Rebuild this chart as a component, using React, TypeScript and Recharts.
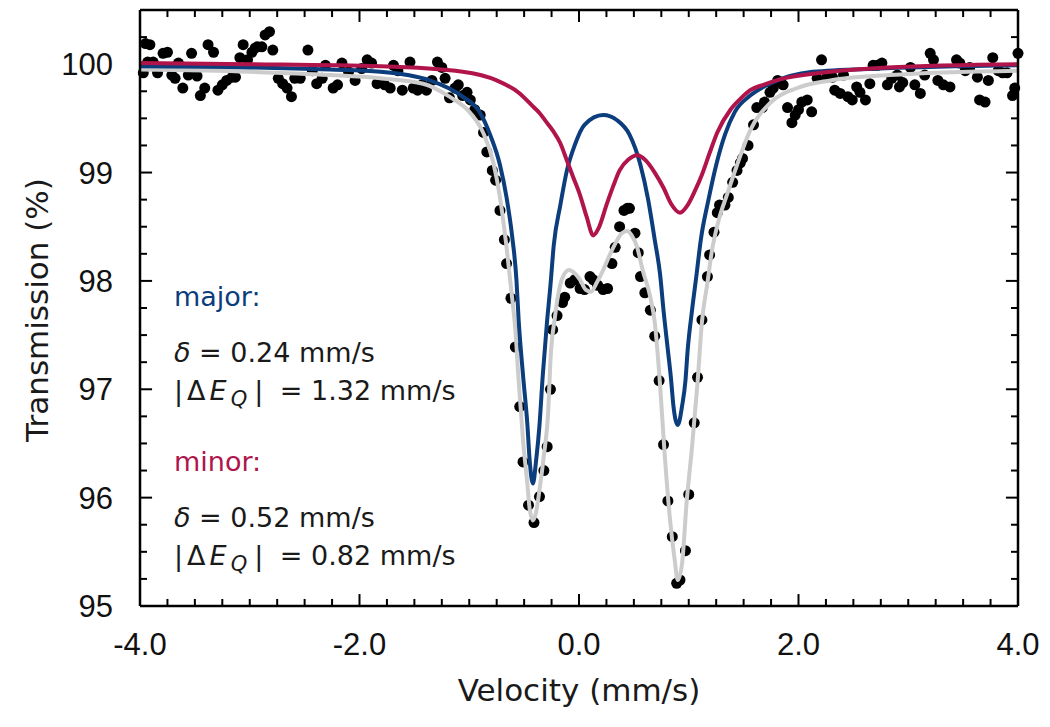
import React from "react";
import { ComposedChart, Scatter, Line, XAxis, YAxis, ReferenceLine } from "recharts";

// measured spectrum, [velocity mm/s, transmission %]
const measured: [number, number][] = [
  [-3.97, 99.92], [-3.95, 100.19], [-3.93, 100.02], [-3.91, 100.18], [-3.88, 100.02], [-3.84, 99.92],
  [-3.79, 100.1], [-3.75, 100.11], [-3.71, 99.9], [-3.68, 99.87], [-3.65, 100.01], [-3.61, 99.78],
  [-3.56, 99.9], [-3.53, 100.1], [-3.48, 99.89], [-3.45, 99.71], [-3.41, 99.78], [-3.38, 100.18],
  [-3.33, 100.11], [-3.29, 99.76], [-3.25, 99.81], [-3.21, 99.85], [-3.16, 99.88], [-3.13, 99.88],
  [-3.09, 100.06], [-3.06, 100.18], [-3.02, 100.04], [-2.98, 100.11], [-2.95, 100.15], [-2.93, 100.16],
  [-2.89, 100.16], [-2.86, 100.27], [-2.82, 100.3], [-2.79, 100.13], [-2.74, 99.87], [-2.7, 99.82],
  [-2.66, 99.78], [-2.62, 99.7], [-2.59, 99.87], [-2.54, 99.87], [-2.47, 100.13], [-2.43, 99.94],
  [-2.39, 99.82], [-2.34, 99.87], [-2.31, 99.99], [-2.24, 99.78], [-2.2, 99.81], [-2.16, 100.01],
  [-2.1, 99.93], [-2.04, 99.85], [-1.98, 99.96], [-1.93, 100.04], [-1.89, 100.01], [-1.84, 99.82],
  [-1.77, 99.81], [-1.72, 99.78], [-1.69, 99.99], [-1.65, 99.94], [-1.61, 99.76], [-1.54, 100.02],
  [-1.51, 99.78], [-1.47, 99.76], [-1.43, 99.81], [-1.39, 99.76], [-1.34, 99.85], [-1.29, 100.02],
  [-1.25, 99.97], [-1.22, 99.87], [-1.18, 99.69], [-1.13, 99.78], [-1.1, 99.81], [-1.06, 99.71],
  [-1.02, 99.74], [-0.99, 99.67], [-0.95, 99.58], [-0.9, 99.53], [-0.87, 99.37], [-0.84, 99.19],
  [-0.79, 99.02], [-0.76, 98.93], [-0.72, 98.65], [-0.68, 98.38], [-0.66, 98.16], [-0.62, 97.84],
  [-0.58, 97.39], [-0.54, 96.84], [-0.51, 96.33], [-0.46, 95.93], [-0.41, 95.77], [-0.36, 96.01],
  [-0.32, 96.25], [-0.29, 96.47], [-0.26, 97.0], [-0.24, 97.55], [-0.2, 97.68], [-0.15, 97.8],
  [-0.13, 97.85], [-0.08, 97.98], [-0.04, 98.01], [0.01, 97.93], [0.05, 97.92], [0.1, 98.04],
  [0.13, 98.01], [0.17, 97.96], [0.22, 97.92], [0.26, 97.93], [0.3, 98.16], [0.33, 98.31],
  [0.37, 98.5], [0.41, 98.65], [0.44, 98.67], [0.46, 98.67], [0.51, 98.44], [0.54, 98.26],
  [0.56, 98.04], [0.6, 97.89], [0.65, 97.73], [0.69, 97.49], [0.73, 97.08], [0.77, 96.49],
  [0.81, 95.97], [0.85, 95.64], [0.89, 95.21], [0.92, 95.24], [0.97, 95.51], [1.0, 96.03],
  [1.05, 96.69], [1.08, 97.11], [1.12, 97.64], [1.17, 98.04], [1.19, 98.24], [1.23, 98.45],
  [1.26, 98.63], [1.28, 98.7], [1.33, 98.7], [1.36, 98.77], [1.4, 98.91], [1.44, 99.02],
  [1.47, 99.09], [1.49, 99.13], [1.54, 99.25], [1.59, 99.44], [1.62, 99.6], [1.67, 99.6],
  [1.69, 99.65], [1.74, 99.74], [1.77, 99.78], [1.81, 99.85], [1.86, 99.81], [1.9, 99.6],
  [1.94, 99.46], [1.97, 99.53], [2.0, 99.58], [2.03, 99.65], [2.08, 99.67], [2.12, 99.56],
  [2.17, 99.87], [2.21, 100.04], [2.26, 99.88], [2.31, 99.88], [2.33, 99.76], [2.38, 99.73],
  [2.41, 99.9], [2.45, 99.7], [2.49, 99.67], [2.53, 99.79], [2.56, 99.74], [2.61, 99.67],
  [2.65, 99.82], [2.68, 99.99], [2.72, 99.99], [2.76, 100.01], [2.81, 99.81], [2.85, 99.87],
  [2.9, 99.9], [2.92, 99.79], [2.95, 99.83], [3.02, 99.97], [3.06, 99.81], [3.11, 99.73],
  [3.15, 99.9], [3.2, 100.1], [3.23, 100.04], [3.27, 99.85], [3.32, 99.81], [3.38, 99.79],
  [3.44, 100.04], [3.47, 100.01], [3.52, 99.94], [3.56, 99.97], [3.63, 99.88], [3.65, 99.67],
  [3.7, 99.65], [3.73, 99.85], [3.77, 100.06], [3.82, 99.94], [3.86, 99.92], [3.9, 99.92],
  [3.95, 99.71], [3.97, 99.78], [4.0, 100.1],
];

// fitted components
const majorFit: [number, number][] = [
  [-4.0, 99.98], [-3.0, 99.97], [-2.27, 99.95], [-1.81, 99.93], [-1.36, 99.85], [-1.06, 99.7],
  [-0.9, 99.55], [-0.81, 99.35], [-0.72, 99.07], [-0.66, 98.77], [-0.61, 98.42], [-0.57, 98.01],
  [-0.55, 97.64], [-0.51, 97.13], [-0.47, 96.67], [-0.45, 96.35], [-0.42, 96.13], [-0.39, 96.35],
  [-0.36, 96.67], [-0.33, 97.13], [-0.29, 97.64], [-0.26, 97.96], [-0.23, 98.33], [-0.17, 98.7],
  [-0.11, 99.02], [-0.04, 99.25], [0.05, 99.44], [0.22, 99.53], [0.35, 99.48], [0.46, 99.35],
  [0.56, 99.07], [0.63, 98.75], [0.69, 98.38], [0.74, 98.05], [0.77, 97.73], [0.81, 97.36],
  [0.84, 97.08], [0.86, 96.85], [0.9, 96.67], [0.94, 96.85], [0.97, 97.08], [0.99, 97.36],
  [1.03, 97.73], [1.07, 98.05], [1.11, 98.38], [1.18, 98.75], [1.25, 99.07], [1.33, 99.35],
  [1.42, 99.56], [1.56, 99.71], [1.74, 99.82], [2.13, 99.93], [2.74, 99.96], [4.0, 99.99],
];

const minorFit: [number, number][] = [
  [-4.0, 100.01], [-3.0, 100.0], [-1.81, 99.98], [-1.06, 99.93], [-0.75, 99.85], [-0.54, 99.73],
  [-0.42, 99.61], [-0.36, 99.55], [-0.3, 99.47], [-0.24, 99.39], [-0.17, 99.27], [-0.11, 99.11],
  [-0.05, 98.95], [0.01, 98.79], [0.07, 98.59], [0.13, 98.42], [0.18, 98.49], [0.25, 98.7],
  [0.31, 98.87], [0.37, 99.02], [0.45, 99.12], [0.53, 99.16], [0.61, 99.11], [0.69, 99.0],
  [0.77, 98.86], [0.84, 98.71], [0.92, 98.63], [0.99, 98.7], [1.06, 98.84], [1.12, 98.98],
  [1.19, 99.18], [1.26, 99.37], [1.38, 99.58], [1.47, 99.68], [1.56, 99.76], [1.68, 99.81],
  [1.83, 99.86], [2.29, 99.93], [2.81, 99.97], [4.0, 100.0],
];

const totalFit: [number, number][] = [
  [-4.0, 99.95], [-3.0, 99.93], [-2.27, 99.9], [-1.81, 99.87], [-1.42, 99.82], [-1.18, 99.7],
  [-0.99, 99.55], [-0.87, 99.36], [-0.78, 99.09], [-0.72, 98.77], [-0.66, 98.31], [-0.61, 97.85],
  [-0.58, 97.55], [-0.55, 97.08], [-0.51, 96.53], [-0.47, 96.12], [-0.45, 95.9], [-0.42, 95.79],
  [-0.39, 95.87], [-0.36, 96.07], [-0.32, 96.39], [-0.28, 96.81], [-0.26, 97.27], [-0.22, 97.66],
  [-0.19, 97.87], [-0.15, 98.03], [-0.09, 98.1], [-0.04, 98.07], [0.01, 98.01], [0.06, 97.92],
  [0.11, 97.9], [0.16, 97.98], [0.22, 98.1], [0.28, 98.24], [0.35, 98.38], [0.39, 98.44],
  [0.44, 98.46], [0.48, 98.42], [0.53, 98.31], [0.58, 98.1], [0.65, 97.85], [0.69, 97.62],
  [0.74, 97.02], [0.78, 96.41], [0.83, 95.79], [0.87, 95.44], [0.9, 95.24], [0.94, 95.4],
  [0.98, 95.95], [1.03, 96.47], [1.08, 97.06], [1.12, 97.62], [1.17, 97.98], [1.21, 98.27],
  [1.27, 98.55], [1.35, 98.8], [1.44, 99.07], [1.56, 99.39], [1.74, 99.64], [1.99, 99.78],
  [2.29, 99.85], [2.83, 99.9], [4.0, 99.94],
];

const xTicks = [
  -4, -3.75, -3.5, -3.25, -3, -2.75, -2.5, -2.25, -2, -1.75, -1.5, -1.25, -1, -0.75, -0.5, -0.25, 0,
  0.25, 0.5, 0.75, 1, 1.25, 1.5, 1.75, 2, 2.25, 2.5, 2.75, 3, 3.25, 3.5, 3.75, 4,
];
const xLabelled = [-4, -2, 0, 2, 4];
const yTicks = [
  95, 95.25, 95.5, 95.75, 96, 96.25, 96.5, 96.75, 97, 97.25, 97.5, 97.75, 98, 98.25, 98.5, 98.75,
  99, 99.25, 99.5, 99.75, 100, 100.25, 100.5,
];
const yLabelled = [95, 96, 97, 98, 99, 100];

const X_MIN = -4;
const X_MAX = 4;
const Y_MIN = 95;
const Y_MAX = 100.5;

const BLUE = "#0c3d7c";
const RED = "#b0144b";
const GREY = "#cccccc";
const TICK_FONT = "'Liberation Sans', Arial, sans-serif";
const TEXT_FONT = "'DejaVu Sans', sans-serif";

const toRows = (pts: [number, number][]) => pts.map(([v, t]) => ({ v, t }));

const isLabelled = (list: number[], v: number) => list.some((l) => Math.abs(l - v) < 1e-6);

// inward tick lengths in data units (about 7px minor, 12px major)
const xTickLen = (v: number) => (isLabelled(xLabelled, v) ? 0.11 : 0.065);
const yTickLen = (v: number) => (isLabelled(yLabelled, v) ? 0.11 : 0.064);

const BottomLabel = (props: any) => {
  const x = Number(props.x);
  const y = Number(props.y);
  if (!isLabelled(xLabelled, props.payload.value)) return <g />;
  return (
    <text x={x} y={y + 49} textAnchor="middle" fontFamily={TICK_FONT} fontSize={31} fill="#111">
      {props.payload.value.toFixed(1)}
    </text>
  );
};

const LeftLabel = (props: any) => {
  const x = Number(props.x);
  const y = Number(props.y);
  if (!isLabelled(yLabelled, props.payload.value)) return <g />;
  return (
    <text x={x - 27} y={y + 11} textAnchor="end" fontFamily={TICK_FONT} fontSize={31} fill="#111">
      {props.payload.value}
    </text>
  );
};

const Dot = (props: any) => <circle cx={props.cx} cy={props.cy} r={5.5} fill="#000" />;

const frame = { stroke: "#000", strokeWidth: 2.5 };
const tickStroke = { stroke: "#000", strokeWidth: 2 };

const textStyle: React.CSSProperties = {
  position: "absolute",
  left: 174,
  fontFamily: TEXT_FONT,
  fontSize: 27,
  lineHeight: "27px",
  whiteSpace: "nowrap",
  color: "#1a1a1a",
};

const Params = ({ top, delta, split }: { top: number; delta: string; split: string }) => (
  <>
    <div style={{ ...textStyle, top }}>
      <i>δ</i> = {delta} mm/s
    </div>
    <div style={{ ...textStyle, top: top + 38 }}>
      <span style={{ letterSpacing: 4 }}>
        |Δ<i>E</i>
      </span>
      <sub style={{ fontSize: 21, fontStyle: "italic", verticalAlign: "-6px", marginRight: 7 }}>Q</sub>
      <span style={{ marginRight: 8 }}>|</span> = {split} mm/s
    </div>
  </>
);

export default function App() {
  return (
    <div style={{ position: "absolute", left: 0, top: 0, width: 1050, height: 727, background: "#fff" }}>
      <ComposedChart width={1050} height={727} margin={{ top: 5, right: 27, bottom: 71, left: 80 }}>
        <XAxis
          type="number"
          xAxisId="b"
          dataKey="v"
          domain={[X_MIN, X_MAX]}
          ticks={xTicks}
          interval={0}
          height={50}
          tickSize={0}
          tickMargin={0}
          tickLine={false}
          axisLine={frame}
          tick={<BottomLabel />}
        />
        <XAxis
          type="number"
          xAxisId="t"
          orientation="top"
          dataKey="v"
          domain={[X_MIN, X_MAX]}
          ticks={xTicks}
          height={5}
          tickLine={false}
          axisLine={frame}
          tick={false}
        />
        <YAxis
          type="number"
          yAxisId="l"
          dataKey="t"
          domain={[Y_MIN, Y_MAX]}
          ticks={yTicks}
          interval={0}
          width={60}
          tickSize={0}
          tickMargin={0}
          tickLine={false}
          axisLine={frame}
          tick={<LeftLabel />}
        />
        <YAxis
          type="number"
          yAxisId="r"
          orientation="right"
          dataKey="t"
          domain={[Y_MIN, Y_MAX]}
          ticks={yTicks}
          width={5}
          tickLine={false}
          axisLine={frame}
          tick={false}
        />

        {xTicks.map((v) => (
          <ReferenceLine
            key={`xb${v}`}
            xAxisId="b"
            yAxisId="l"
            segment={[{ x: v, y: Y_MIN }, { x: v, y: Y_MIN + xTickLen(v) }]}
            {...tickStroke}
          />
        ))}
        {xTicks.map((v) => (
          <ReferenceLine
            key={`xt${v}`}
            xAxisId="b"
            yAxisId="l"
            segment={[{ x: v, y: Y_MAX }, { x: v, y: Y_MAX - xTickLen(v) }]}
            {...tickStroke}
          />
        ))}
        {yTicks.map((t) => (
          <ReferenceLine
            key={`yl${t}`}
            xAxisId="b"
            yAxisId="l"
            segment={[{ x: X_MIN, y: t }, { x: X_MIN + yTickLen(t), y: t }]}
            {...tickStroke}
          />
        ))}
        {yTicks.map((t) => (
          <ReferenceLine
            key={`yr${t}`}
            xAxisId="b"
            yAxisId="l"
            segment={[{ x: X_MAX, y: t }, { x: X_MAX - yTickLen(t), y: t }]}
            {...tickStroke}
          />
        ))}

        <Scatter
          xAxisId="b"
          yAxisId="l"
          data={toRows(measured)}
          dataKey="t"
          shape={<Dot />}
          zIndex={100}
          isAnimationActive={false}
        />
        <Line
          xAxisId="b"
          yAxisId="l"
          data={toRows(totalFit)}
          dataKey="t"
          type="monotone"
          stroke={GREY}
          strokeWidth={4}
          dot={false}
          activeDot={false}
          zIndex={400}
          isAnimationActive={false}
        />
        <Line
          xAxisId="b"
          yAxisId="l"
          data={toRows(majorFit)}
          dataKey="t"
          type="monotone"
          stroke={BLUE}
          strokeWidth={4}
          dot={false}
          activeDot={false}
          zIndex={410}
          isAnimationActive={false}
        />
        <Line
          xAxisId="b"
          yAxisId="l"
          data={toRows(minorFit)}
          dataKey="t"
          type="monotone"
          stroke={RED}
          strokeWidth={4}
          dot={false}
          activeDot={false}
          zIndex={420}
          isAnimationActive={false}
        />
      </ComposedChart>

      <div
        style={{
          position: "absolute",
          left: 37,
          top: 310,
          transform: "translate(-50%, -50%) rotate(-90deg)",
          fontFamily: TEXT_FONT,
          fontSize: 31,
          whiteSpace: "nowrap",
          color: "#1a1a1a",
        }}
      >
        Transmission (%)
      </div>
      <div
        style={{
          position: "absolute",
          left: 579,
          top: 690,
          transform: "translate(-50%, -50%)",
          fontFamily: TEXT_FONT,
          fontSize: 31,
          whiteSpace: "nowrap",
          color: "#1a1a1a",
        }}
      >
        Velocity (mm/s)
      </div>

      <div style={{ ...textStyle, top: 283, color: BLUE }}>major:</div>
      <Params top={339} delta="0.24" split="1.32" />
      <div style={{ ...textStyle, top: 448, color: RED }}>minor:</div>
      <Params top={504} delta="0.52" split="0.82" />
    </div>
  );
}
